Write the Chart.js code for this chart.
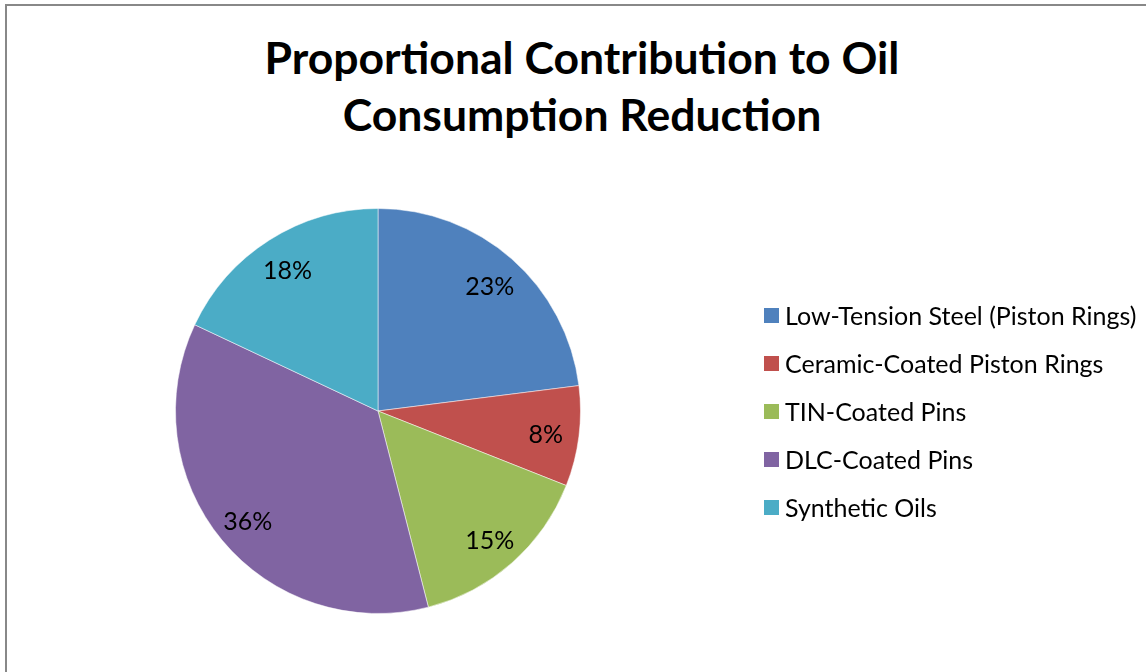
<!DOCTYPE html>
<html>
<head>
<meta charset="utf-8">
<script src="https://cdn.jsdelivr.net/npm/chart.js@4/dist/chart.umd.min.js"></script>
<style>
  html, body { margin: 0; padding: 0; background: #fff; }
  body { width: 1146px; height: 672px; position: relative; overflow: hidden; font-family: Lato, "Open Sans", sans-serif; }
  #frame { position: absolute; left: 5px; top: 4px; width: 1200px; height: 720px; border: 2px solid #888; box-sizing: border-box; }
  #title { position: absolute; left: 0; width: 1164px; top: 28px; text-align: center; font-weight: bold; font-size: 44.5px; line-height: 57px; color: #000; }
  #chartBox { position: absolute; left: 0; top: 0; width: 1146px; height: 672px; }
  #legend { position: absolute; left: 764px; top: 302px; }
  .item { height: 48px; display: flex; align-items: flex-start; font-size: 25px; color: #000; white-space: nowrap; }
  .box { width: 15px; height: 15px; margin-top: 6px; margin-right: 6px; flex: none; }
  .item span { line-height: 27px; }
</style>
</head>
<body>
<div id="frame"></div>
<div id="title">Proportional Contribution to Oil<br>Consumption Reduction</div>
<div id="chartBox"><canvas id="pie"></canvas></div>
<div id="legend"></div>
<script>
// data
const labels = [
  "Low-Tension Steel (Piston Rings)",
  "Ceramic-Coated Piston Rings",
  "TIN-Coated Pins",
  "DLC-Coated Pins",
  "Synthetic Oils"
];
const values = [23, 8, 15, 36, 18];
const colors = ["#4F81BD", "#C0504D", "#9BBB59", "#8064A2", "#4BACC6"];

// percent labels drawn inside slices
const pctLabels = {
  id: "pctLabels",
  afterDatasetsDraw(chart) {
    const ctx = chart.ctx;
    const meta = chart.getDatasetMeta(0);
    const total = values.reduce((a, b) => a + b, 0);
    ctx.save();
    ctx.font = "25px Lato";
    ctx.fillStyle = "#000";
    ctx.textAlign = "center";
    ctx.textBaseline = "middle";
    meta.data.forEach((arc, i) => {
      const p = arc.getProps(["x", "y", "startAngle", "endAngle", "outerRadius"], true);
      const mid = (p.startAngle + p.endAngle) / 2;
      const r = p.outerRadius * 0.835;
      const txt = Math.round(values[i] / total * 100) + "%";
      ctx.fillText(txt, p.x + Math.cos(mid) * r, p.y + Math.sin(mid) * r + 3);
    });
    ctx.restore();
  }
};

new Chart(document.getElementById("pie").getContext("2d"), {
  type: "pie",
  data: {
    labels,
    datasets: [{
      data: values,
      backgroundColor: colors,
      borderColor: "rgba(255,255,255,0.5)",
      borderWidth: 1
    }]
  },
  options: {
    responsive: true,
    maintainAspectRatio: false,
    animation: false,
    layout: { padding: { left: 175, right: 565, top: 208, bottom: 58 } },
    plugins: {
      legend: { display: false },
      tooltip: { enabled: false },
      title: { display: false }
    }
  },
  plugins: [pctLabels]
});

// legend
const legendEl = document.getElementById("legend");
labels.forEach((lab, i) => {
  const row = document.createElement("div");
  row.className = "item";
  const sw = document.createElement("div");
  sw.className = "box";
  sw.style.background = colors[i];
  const t = document.createElement("span");
  t.textContent = lab;
  row.appendChild(sw);
  row.appendChild(t);
  legendEl.appendChild(row);
});
</script>
</body>
</html>
